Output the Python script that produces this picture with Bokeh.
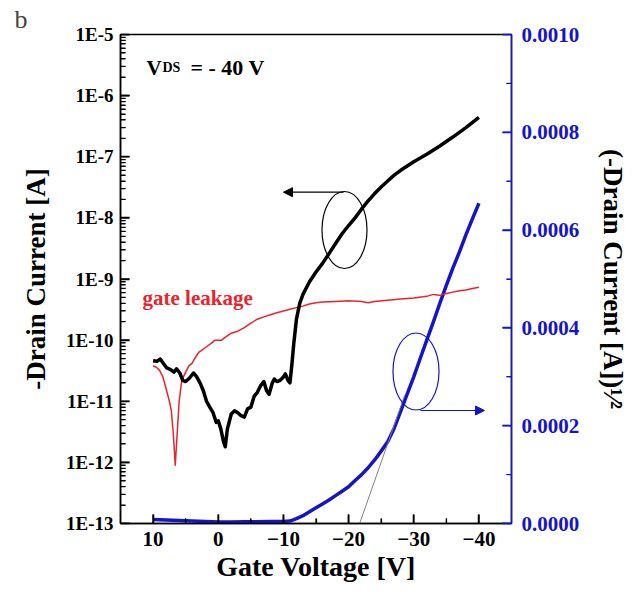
from bokeh.plotting import figure
from bokeh.models import (Range1d, LinearAxis, LinearScale, FixedTicker, CustomJSTickFormatter,
                          PrintfTickFormatter, Label, Arrow, NormalHead)
from bokeh.embed import file_html
from bokeh.resources import INLINE

# ---------------- data ----------------
gate_v_drain = [10, 9.4, 8.9, 8.3, 7.9, 7.3, 6.8, 6.4, 5.9, 5.45, 5.0, 4.4, 3.8, 3.3, 2.8,
                2.3, 1.8, 1.3, 0.8, 0.3, 0.0, -0.4, -0.8, -1.07, -1.4, -2.0, -2.5, -3.0,
                -3.5, -4.0, -4.5, -5.0, -5.5, -6.0, -6.5, -7.0, -7.4, -7.8, -8.3, -8.6,
                -9.0, -9.5, -10.0, -10.3, -10.7, -11.0, -11.3, -11.6, -12.0, -12.5, -13.0,
                -14, -15, -16, -17, -18, -19, -20, -21, -22, -23, -24, -25, -26, -27, -28,
                -30, -32, -34, -36, -38, -40]
drain_current = [4.6e-11, 4.5e-11, 4.9e-11, 4.0e-11, 3.5e-11, 3.3e-11, 3.0e-11, 3.4e-11,
                 2.9e-11, 2.2e-11, 2.1e-11, 2.4e-11, 2.9e-11, 2.5e-11, 2.0e-11, 1.5e-11,
                 1.0e-11, 8e-12, 6.5e-12, 4.5e-12, 4.8e-12, 3.5e-12, 2.2e-12, 1.8e-12,
                 3.5e-12, 6.2e-12, 7e-12, 6.5e-12, 5.8e-12, 5.5e-12, 7.5e-12, 8e-12,
                 1.2e-11, 1.4e-11, 1.8e-11, 2.1e-11, 1.5e-11, 1.3e-11, 2.0e-11, 2.3e-11,
                 2.1e-11, 2.2e-11, 2.5e-11, 2.8e-11, 2.2e-11, 2.0e-11, 4e-11, 9e-11,
                 2.2e-10, 4e-10, 5.6e-10, 9e-10, 1.3e-9, 1.8e-9, 2.6e-9, 3.8e-9, 5.5e-9,
                 7.5e-9, 1.0e-8, 1.4e-8, 1.9e-8, 2.5e-8, 3.2e-8, 4.0e-8, 5.0e-8, 6.0e-8,
                 8.3e-8, 1.1e-7, 1.5e-7, 2.1e-7, 3.0e-7, 4.4e-7]

gate_v_leak = [10, 9.5, 9, 8.5, 8, 7.5, 7.2, 6.9, 6.6, 6.3, 6.0, 5.6, 5, 4.5, 4, 3.5, 3, 2,
               1, 0.5, -0.5, -1, -2, -3, -4, -5, -6, -7, -8, -9, -10, -11, -12, -13, -14,
               -15, -16, -18, -20, -22, -23, -24, -26, -28, -30, -32, -33, -34, -35, -36,
               -37, -38, -39, -40]
leak_current = [3.8e-11, 3.6e-11, 3.2e-11, 2.5e-11, 1.6e-11, 1.0e-11, 7e-12, 3e-12, 9e-13,
                3e-12, 1.0e-11, 2.2e-11, 3.0e-11, 3.8e-11, 4.2e-11, 5.2e-11, 6.3e-11,
                7.5e-11, 9e-11, 1.0e-10, 1.0e-10, 1.1e-10, 1.3e-10, 1.4e-10, 1.6e-10,
                1.9e-10, 2.2e-10, 2.4e-10, 2.6e-10, 2.8e-10, 3.0e-10, 3.2e-10, 3.4e-10,
                3.6e-10, 3.9e-10, 4.1e-10, 4.2e-10, 4.3e-10, 4.4e-10, 4.3e-10, 4.1e-10,
                4.3e-10, 4.5e-10, 4.7e-10, 4.9e-10, 5.2e-10, 5.6e-10, 5.4e-10, 5.8e-10,
                6.1e-10, 6.4e-10, 6.6e-10, 7.0e-10, 7.3e-10]

gate_v_sqrt = [10, 8, 6, 4, 2, 0, -2, -4, -6, -8, -10, -11, -12, -13, -14, -15, -16, -17,
               -18, -19, -20, -21, -22, -23, -24, -25, -26, -27, -28, -29, -30, -31, -32,
               -33, -34, -35, -36, -37, -38, -39, -40]
sqrt_current = [8e-6, 7e-6, 6e-6, 5e-6, 4e-6, 3e-6, 3e-6, 3.5e-6, 3.5e-6, 4e-6, 4e-6, 5e-6,
                1.0e-5, 1.6e-5, 2.4e-5, 3.2e-5, 4.0e-5, 4.8e-5, 5.7e-5, 6.6e-5, 7.5e-5,
                8.8e-5, 1.0e-4, 1.14e-4, 1.3e-4, 1.48e-4, 1.67e-4, 1.95e-4, 2.3e-4,
                2.65e-4, 3.0e-4, 3.38e-4, 3.75e-4, 4.12e-4, 4.5e-4, 4.87e-4, 5.22e-4,
                5.55e-4, 5.9e-4, 6.23e-4, 6.55e-4]

fit_v = [-21.7, -28.6]
fit_sqrt = [0.0, 2.62e-4]

x_ticks = [10, 0, -10, -20, -30, -40]
x_minor = [5, -5, -15, -25, -35]
log_ticks = [10.0 ** k for k in range(-13, -4)]
log_minor = [m * 10.0 ** k for k in range(-13, -5) for m in range(2, 10)]
right_ticks = [0.0, 0.0002, 0.0004, 0.0006, 0.0008, 0.0010]
right_minor = [0.0001, 0.0003, 0.0005, 0.0007, 0.0009]

# ---------------- layout helpers (picture pixel -> data) ----------------
W, H = 643, 592
FL, FR, FT, FB = 120, 511, 34, 523
X_LO, X_HI = 15, -45
def X(px):
    return X_LO + (px - FL) * (X_HI - X_LO) / (FR - FL)
def LY(py):
    return 10 ** (-5 - (py - FT) * 8.0 / (FB - FT))
def RY(py):
    return (FB - py) / (FB - FT) * 0.001

FONT = "Liberation Serif"
BLUE = "#1414c8"
RED = "#e8232b"

p = figure(width=W, height=H, x_range=Range1d(X_LO, X_HI), y_range=Range1d(1e-13, 1e-5),
           y_axis_type="log", output_backend="svg", toolbar_location=None,
           min_border_left=FL, min_border_right=W - FR, min_border_top=FT,
           min_border_bottom=H - FB, title="b")
p.extra_y_ranges = {"right": Range1d(0, 0.001)}
p.extra_y_scales = {"right": LinearScale()}
p.grid.visible = False
p.outline_line_color = "black"
p.outline_line_width = 1.5
p.background_fill_color = "white"
p.border_fill_color = "white"

p.title.text_font = FONT
p.title.text_font_size = "26px"
p.title.text_font_style = "normal"
p.title.align = "left"
p.title.offset = 14 - FL
p.title.standoff = 2

# left axis
la = p.left[0]
la.ticker = FixedTicker(ticks=log_ticks, minor_ticks=log_minor)
la.formatter = CustomJSTickFormatter(code="return '1E' + Math.round(Math.log10(tick));")
la.axis_label = "-Drain Current [A]"

# bottom axis
ba = p.below[0]
ba.ticker = FixedTicker(ticks=x_ticks, minor_ticks=x_minor)
ba.axis_label = "Gate Voltage [V]"

# right axis
ra = LinearAxis(y_range_name="right")
ra.ticker = FixedTicker(ticks=right_ticks, minor_ticks=right_minor)
ra.formatter = PrintfTickFormatter(format="%.4f")
ra.axis_label = "(-Drain Current [A])\u00b9\u2044\u00b2"
p.add_layout(ra, "right")

for ax, col in ((la, "black"), (ba, "black"), (ra, BLUE)):
    ax.axis_line_color = col
    ax.axis_line_width = 1.5
    ax.major_tick_line_color = col
    ax.minor_tick_line_color = col
    ax.major_tick_line_width = 1.5
    ax.minor_tick_line_width = 1.2
    ax.major_tick_in = 9
    ax.major_tick_out = 0
    ax.minor_tick_in = 5
    ax.minor_tick_out = 0
    ax.major_label_text_font = FONT
    ax.major_label_text_font_style = "bold"
    ax.major_label_text_color = col
    ax.axis_label_text_font = FONT
    ax.axis_label_text_font_style = "bold"
    ax.axis_label_text_font_size = "27px"
    ax.axis_label_text_color = "black"

la.major_label_text_font_size = "19px"
la.major_label_standoff = 7
la.axis_label_standoff = 12
ba.major_label_text_font_size = "21px"
ba.major_label_standoff = 8
ba.axis_label_standoff = 2
ba.axis_label_text_font_size = "28px"
ra.major_label_text_font_size = "21px"
ra.major_label_standoff = 10
ra.axis_label_standoff = 16

# curves
p.line(gate_v_sqrt, sqrt_current, y_range_name="right", line_color=BLUE, line_width=3.5,
       line_join="round")
p.line(fit_v, fit_sqrt, y_range_name="right", line_color="#808080", line_width=1)
p.line(gate_v_leak, leak_current, line_color=RED, line_width=1.5, line_join="round")
p.line(gate_v_drain, drain_current, line_color="black", line_width=3.5, line_join="round")

# inward tick marks: thin rectangles centred on the frame edge (outer half is clipped)
p.rect(x=[X_LO] * len(log_ticks), y=log_ticks, width=18, height=1.6, width_units="screen",
       height_units="screen", fill_color="black", line_color=None)
p.rect(x=[X_LO] * len(log_minor), y=log_minor, width=10, height=1.2, width_units="screen",
       height_units="screen", fill_color="black", line_color=None)
p.rect(x=x_ticks, y=[1e-13] * len(x_ticks), width=1.6, height=18, width_units="screen",
       height_units="screen", fill_color="black", line_color=None)
p.rect(x=x_minor, y=[1e-13] * len(x_minor), width=1.2, height=10, width_units="screen",
       height_units="screen", fill_color="black", line_color=None)
p.rect(x=[X_HI] * len(right_ticks), y=right_ticks, width=18, height=1.6, width_units="screen",
       height_units="screen", fill_color=BLUE, line_color=None, y_range_name="right")
p.rect(x=[X_HI] * len(right_minor), y=right_minor, width=10, height=1.2, width_units="screen",
       height_units="screen", fill_color=BLUE, line_color=None, y_range_name="right")

# ellipses and arrows
p.ellipse(x=[X(344)], y=[LY(229.5)], width=45, height=77, width_units="screen",
          height_units="screen", fill_color=None, line_color="black", line_width=1.2)
p.ellipse(x=[X(415.5)], y=[RY(371)], width=46, height=77, width_units="screen",
          height_units="screen", fill_color=None, line_color=BLUE, line_width=1.2,
          y_range_name="right")
p.add_layout(Arrow(end=NormalHead(size=9, fill_color="black", line_color="black"),
                   x_start=X(343), y_start=LY(191.7), x_end=X(283), y_end=LY(191.7),
                   line_color="black", line_width=1.2))
p.add_layout(Arrow(end=NormalHead(size=9, fill_color=BLUE, line_color=BLUE),
                   x_start=X(420), y_start=RY(410), x_end=X(484), y_end=RY(410),
                   line_color=BLUE, line_width=1.2, y_range_name="right"))

# texts (screen units are measured from the frame's bottom-left corner)
def lab(txt, px, py, size, color="black", style="bold", angle=0.0):
    p.add_layout(Label(x=px - FL, y=FB - py, x_units="screen", y_units="screen", text=txt,
                       text_font=FONT, text_font_size=size, text_font_style=style,
                       text_color=color, angle=angle, text_align="left",
                       text_baseline="alphabetic"))

lab("V", 146, 67, "21px")
lab("DS", 162, 67, "14px")
lab("= - 40 V", 190, 67, "22px")
lab("gate leakage", 142, 297, "21px", color=RED)

open("out.html", "w").write(file_html(p, INLINE))
